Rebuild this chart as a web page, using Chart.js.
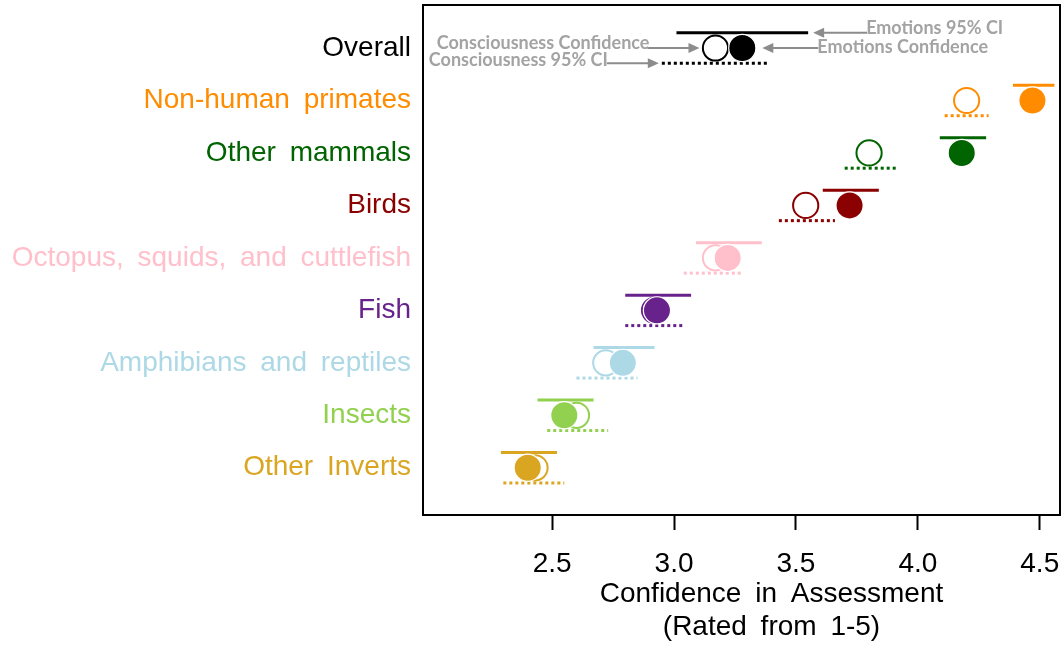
<!DOCTYPE html>
<html>
<head>
<meta charset="utf-8">
<script src="https://cdn.jsdelivr.net/npm/chart.js@4.4.1/dist/chart.umd.min.js"></script>
<style>
  html, body { margin: 0; padding: 0; background: #ffffff; }
  #wrap { width: 1064px; height: 667px; }
</style>
</head>
<body>
<div id="wrap"><canvas id="c" width="1064" height="667"></canvas></div>
<script>
// Rows, top to bottom
const groups = ['Overall', 'Non-human primates', 'Other mammals', 'Birds',
  'Octopus, squids, and cuttlefish', 'Fish', 'Amphibians and reptiles', 'Insects', 'Other Inverts'];
const groupColors = ['#000000', '#FF8C00', '#006400', '#8B0000',
  '#FFC0CB', '#68228B', '#ADD8E6', '#92D050', '#DAA520'];

// Mean confidence and 95% CI (1-5 scale)
const consciousness     = [3.17, 4.20, 3.80, 3.54, 3.17, 2.92, 2.72, 2.60, 2.43];
const consciousnessLow  = [2.95, 4.11, 3.70, 3.43, 3.04, 2.80, 2.60, 2.48, 2.30];
const consciousnessHigh = [3.39, 4.29, 3.91, 3.66, 3.28, 3.04, 2.85, 2.73, 2.55];
const emotions          = [3.28, 4.47, 4.18, 3.72, 3.22, 2.93, 2.79, 2.55, 2.40];
const emotionsLow       = [3.01, 4.39, 4.09, 3.61, 3.09, 2.80, 2.67, 2.44, 2.29];
const emotionsHigh      = [3.55, 4.56, 4.28, 3.84, 3.36, 3.07, 2.92, 2.67, 2.52];

const xTicks = [2.5, 3.0, 3.5, 4.0, 4.5];
const axisTitle = ['Confidence in Assessment', '(Rated from 1-5)'];

// vertical offset of the CI bars from each row centre (in row units)
const ciOffset = 0.29;
const FONT = '"Liberation Sans", Arial, sans-serif';

const datasets = [];

// filled circles: emotions (drawn on top)
datasets.push({
  type: 'scatter',
  order: 0,
  data: groups.map((g, i) => ({ x: emotions[i], y: i })),
  pointRadius: 13.6,
  pointHoverRadius: 13.6,
  pointBackgroundColor: groupColors,
  pointBorderColor: '#ffffff',
  pointBorderWidth: 1.2
});

// open circles: consciousness
datasets.push({
  type: 'scatter',
  order: 1,
  data: groups.map((g, i) => ({ x: consciousness[i], y: i })),
  pointRadius: 12.6,
  pointHoverRadius: 12.6,
  pointBackgroundColor: '#ffffff',
  pointBorderColor: groupColors,
  pointBorderWidth: 2
});

// CI bars: solid above (emotions), dotted below (consciousness)
groups.forEach((g, i) => {
  datasets.push({
    type: 'line',
    order: 2,
    data: [{ x: emotionsLow[i], y: i - ciOffset }, { x: emotionsHigh[i], y: i - ciOffset }],
    borderColor: groupColors[i],
    borderWidth: 3,
    borderCapStyle: 'butt',
    pointRadius: 0,
    fill: false
  });
  datasets.push({
    type: 'line',
    order: 2,
    data: [{ x: consciousnessLow[i], y: i + ciOffset }, { x: consciousnessHigh[i], y: i + ciOffset }],
    borderColor: groupColors[i],
    borderWidth: 3,
    borderDash: [3, 3],
    borderCapStyle: 'butt',
    pointRadius: 0,
    fill: false
  });
});

// wider gaps between words in axis text
const wordGap = {
  id: 'wordGap',
  beforeDraw(chart) { chart.ctx.wordSpacing = '6px'; },
  afterDraw(chart) { chart.ctx.wordSpacing = '0px'; }
};

// box around the plotting region
const frame = {
  id: 'frame',
  beforeDatasetsDraw(chart) {
    const { ctx, chartArea: a } = chart;
    ctx.save();
    ctx.strokeStyle = '#000000';
    ctx.lineWidth = 2;
    ctx.strokeRect(a.left, a.top, a.right - a.left, a.bottom - a.top);
    ctx.restore();
  }
};

// two-line caption under the x axis
const caption = {
  id: 'caption',
  afterDraw(chart) {
    const { ctx, chartArea: a } = chart;
    const cx = (a.left + a.right) / 2 + 30;
    ctx.save();
    ctx.wordSpacing = '6px';
    ctx.font = '28px ' + FONT;
    ctx.fillStyle = '#000000';
    ctx.textAlign = 'center';
    ctx.textBaseline = 'middle';
    ctx.fillText(axisTitle[0], cx, a.bottom + 79);
    ctx.fillText(axisTitle[1], cx, a.bottom + 112);
    ctx.restore();
  }
};

// key for the "Overall" row
const callouts = {
  id: 'callouts',
  afterDraw(chart) {
    const { ctx } = chart;
    const xs = chart.scales.x, ys = chart.scales.y;
    const yTop = ys.getPixelForValue(-ciOffset);
    const yMid = ys.getPixelForValue(0);
    const yBot = ys.getPixelForValue(ciOffset);
    const arrowColor = '#8c8c8c';
    const textColor = '#a3a3a3';

    ctx.save();
    ctx.wordSpacing = '0px';
    ctx.font = 'bold 18px Lato, "Open Sans", sans-serif';
    ctx.textBaseline = 'alphabetic';
    ctx.strokeStyle = arrowColor;
    ctx.lineWidth = 2;

    function arrow(from, to, y) {
      const d = Math.sign(to - from);
      ctx.fillStyle = arrowColor;
      ctx.beginPath();
      ctx.moveTo(from, y);
      ctx.lineTo(to - d * 8, y);
      ctx.stroke();
      ctx.beginPath();
      ctx.moveTo(to, y);
      ctx.lineTo(to - d * 11, y - 5);
      ctx.lineTo(to - d * 11, y + 5);
      ctx.closePath();
      ctx.fill();
    }

    // Emotions 95% CI
    let tip = xs.getPixelForValue(emotionsHigh[0]) + 5;
    arrow(tip + 54, tip, yTop);
    ctx.fillStyle = textColor; ctx.textAlign = 'left';
    ctx.fillText('Emotions 95% CI', tip + 53, yTop + 1);

    // Emotions Confidence
    tip = xs.getPixelForValue(emotions[0]) + 20;
    arrow(tip + 56, tip, yMid);
    ctx.fillStyle = textColor; ctx.textAlign = 'left';
    ctx.fillText('Emotions Confidence', tip + 55, yMid + 5);

    // Consciousness Confidence
    tip = xs.getPixelForValue(consciousness[0]) - 16;
    arrow(tip - 52, tip, yMid);
    ctx.fillStyle = textColor; ctx.textAlign = 'right';
    ctx.fillText('Consciousness Confidence', tip - 50, yMid + 1);

    // Consciousness 95% CI
    tip = xs.getPixelForValue(consciousnessLow[0]) - 3;
    arrow(tip - 52, tip, yBot);
    ctx.fillStyle = textColor; ctx.textAlign = 'right';
    ctx.fillText('Consciousness 95% CI', tip - 51, yBot + 3);

    ctx.restore();
  }
};

function noEdgePadding(scale) {
  scale.paddingLeft = 0;
  scale.paddingRight = 0;
  scale.paddingTop = 0;
  scale.paddingBottom = 0;
}

new Chart(document.getElementById('c'), {
  data: { datasets },
  plugins: [wordGap, frame, caption, callouts],
  options: {
    responsive: false,
    animation: false,
    events: [],
    layout: { autoPadding: false, padding: { top: 5, right: 4, left: 0, bottom: 0 } },
    plugins: { legend: { display: false }, tooltip: { enabled: false } },
    scales: {
      x: {
        type: 'linear',
        min: 1.9705,
        max: 4.583,
        afterBuildTicks(scale) { scale.ticks = xTicks.map(v => ({ value: v })); },
        afterFit(scale) { scale.height = 152; noEdgePadding(scale); },
        border: { display: false },
        grid: { display: true, drawOnChartArea: false, drawTicks: true, tickLength: 15, tickWidth: 2, tickColor: '#000000' },
        ticks: {
          autoSkip: false,
          maxRotation: 0,
          padding: 17,
          color: '#000000',
          font: { family: FONT, size: 28 },
          callback: v => Number(v).toFixed(1)
        },
        title: { display: false }
      },
      y: {
        type: 'linear',
        reverse: true,
        min: -0.82,
        max: 8.90,
        afterBuildTicks(scale) { scale.ticks = groups.map((g, i) => ({ value: i })); },
        afterFit(scale) { scale.width = 423; noEdgePadding(scale); },
        border: { display: false },
        grid: { display: false, drawTicks: false },
        ticks: {
          autoSkip: false,
          padding: 12,
          font: { family: FONT, size: 28 },
          color: ctx => groupColors[ctx.tick ? ctx.tick.value : ctx.index],
          callback: v => groups[v]
        }
      }
    }
  }
});
</script>
</body>
</html>
